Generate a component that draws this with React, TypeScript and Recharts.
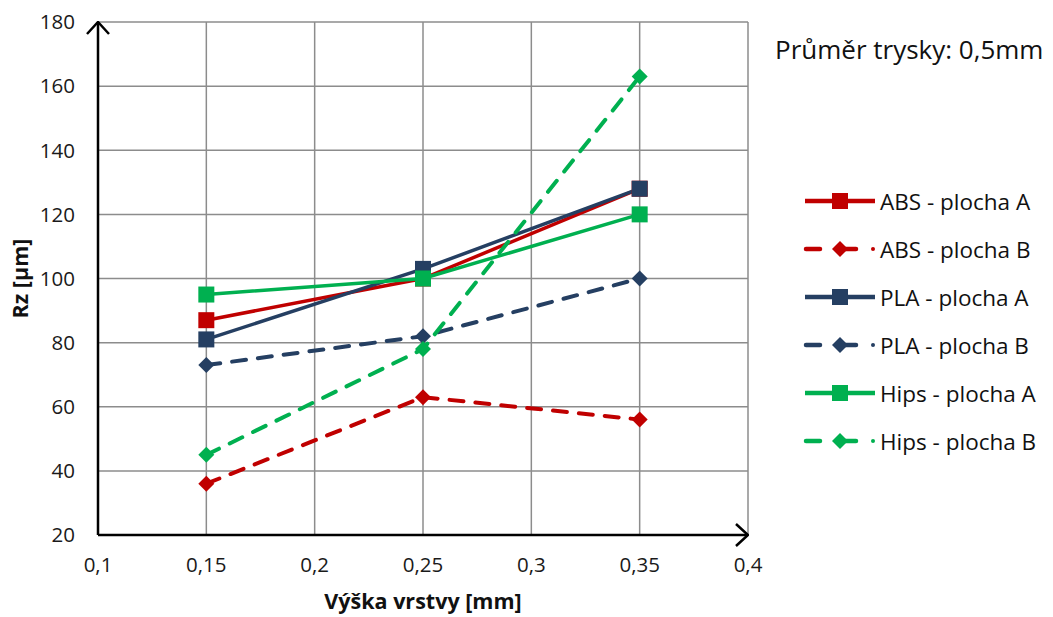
import { LineChart, Line, XAxis, YAxis, CartesianGrid } from "recharts";

// layer heights [mm]
const layerHeights = [0.15, 0.25, 0.35];
const xTicks = [0.1, 0.15, 0.2, 0.25, 0.3, 0.35, 0.4];
const yTicks = [20, 40, 60, 80, 100, 120, 140, 160, 180];

// Rz [µm]
const absA = [87, 100, 128];
const absB = [36, 63, 56];
const plaA = [81, 103, 128];
const plaB = [73, 82, 100];
const hipsA = [95, 100, 120];
const hipsB = [45, 78, 163];

const RED = "#C00000";
const NAVY = "#253F62";
const GREEN = "#00B050";
const FONT = "'Open Sans', sans-serif";

const series = [
  { key: "absA", name: "ABS - plocha A", color: RED, dashed: false, values: absA },
  { key: "absB", name: "ABS - plocha B", color: RED, dashed: true, values: absB },
  { key: "plaA", name: "PLA - plocha A", color: NAVY, dashed: false, values: plaA },
  { key: "plaB", name: "PLA - plocha B", color: NAVY, dashed: true, values: plaB },
  { key: "hipsA", name: "Hips - plocha A", color: GREEN, dashed: false, values: hipsA },
  { key: "hipsB", name: "Hips - plocha B", color: GREEN, dashed: true, values: hipsB },
];

const data = layerHeights.map((h, i) => {
  const row: Record<string, number> = { h };
  series.forEach((s) => (row[s.key] = s.values[i]));
  return row;
});

const fmt = (v: number) => String(v).replace(".", ",");

function Marker({ cx, cy, color, dashed }: { cx: number; cy: number; color: string; dashed: boolean }) {
  if (dashed) {
    const r = 8;
    return <polygon points={`${cx},${cy - r} ${cx + r},${cy} ${cx},${cy + r} ${cx - r},${cy}`} fill={color} />;
  }
  return <rect x={cx - 8} y={cy - 8} width={16} height={16} fill={color} />;
}

function LegendBox() {
  return (
    <div style={{ position: "absolute", left: 800, top: 177, fontFamily: FONT, fontSize: 22.5, color: "#111" }}>
      {series.map((s) => (
        <div key={s.key} style={{ display: "flex", alignItems: "center", height: 48, whiteSpace: "nowrap" }}>
          <svg width={80} height={24}>
            {s.dashed ? (
              <g>
                <line x1={6} y1={12} x2={20} y2={12} stroke={s.color} strokeWidth={4.5} strokeLinecap="round" />
                <line x1={42} y1={12} x2={56} y2={12} stroke={s.color} strokeWidth={4.5} strokeLinecap="round" />
                <circle cx={73} cy={12} r={2} fill={s.color} />
              </g>
            ) : (
              <line x1={5} y1={12} x2={75} y2={12} stroke={s.color} strokeWidth={4.5} />
            )}
            <Marker cx={40} cy={12} color={s.color} dashed={s.dashed} />
          </svg>
          <span>{s.name}</span>
        </div>
      ))}
    </div>
  );
}

export default function App() {
  return (
    <div style={{ position: "absolute", left: 0, top: 0, width: 1053, height: 617, background: "#fff" }}>
      <svg width={0} height={0} style={{ position: "absolute" }}>
        <defs>
          <marker id="arrow" viewBox="0 0 14 24" refX={13} refY={12} markerWidth={14} markerHeight={24} markerUnits="userSpaceOnUse" orient="auto-start-reverse">
            <path d="M1,1 L13,12 L1,23" fill="none" stroke="#000" strokeWidth={2.5} />
          </marker>
        </defs>
      </svg>
      <LineChart width={1053} height={617} data={data} margin={{ top: 22, right: 305, bottom: 0, left: 0 }}>
        <CartesianGrid stroke="#8c8c8c" strokeWidth={1.5} />
        <XAxis
          dataKey="h"
          type="number"
          domain={[0.1, 0.4]}
          ticks={xTicks}
          tickFormatter={fmt}
          height={82}
          tickLine={false}
          axisLine={{ stroke: "#000", strokeWidth: 2.5, markerEnd: "url(#arrow)" }}
          tick={{ fontSize: 20.5, fill: "#1a1a1a", fontFamily: FONT }}
          tickMargin={16}
          label={{ value: "Výška vrstvy [mm]", position: "insideBottom", offset: 2, dy: -6, style: { fontSize: 21.5, fontWeight: 700, fill: "#111", fontFamily: FONT } }}
        />
        <YAxis
          type="number"
          domain={[20, 180]}
          ticks={yTicks}
          width={98}
          tickLine={false}
          axisLine={{ stroke: "#000", strokeWidth: 2.5, markerStart: "url(#arrow)" }}
          tick={{ fontSize: 20.5, fill: "#1a1a1a", fontFamily: FONT }}
          tickMargin={17}
          label={{ value: "Rz [µm]", angle: -90, position: "insideLeft", offset: 20, style: { fontSize: 21.5, fontWeight: 700, fill: "#111", fontFamily: FONT, textAnchor: "middle" } }}
        />
        {series.map((s) => (
          <Line
            key={s.key}
            dataKey={s.key}
            name={s.name}
            type="linear"
            stroke={s.color}
            strokeWidth={s.dashed ? 4 : 3.5}
            strokeDasharray={s.dashed ? "14 12" : undefined}
            strokeLinecap="round"
            isAnimationActive={false}
            dot={(p: any) => <Marker key={`${s.key}-${p.index}`} cx={p.cx} cy={p.cy} color={s.color} dashed={s.dashed} />}
            activeDot={false}
          />
        ))}
      </LineChart>
      <div style={{ position: "absolute", left: 775, top: 31, fontFamily: FONT, fontSize: 26, color: "#111", whiteSpace: "nowrap" }}>
        Průměr trysky: 0,5mm
      </div>
      <LegendBox />
    </div>
  );
}
